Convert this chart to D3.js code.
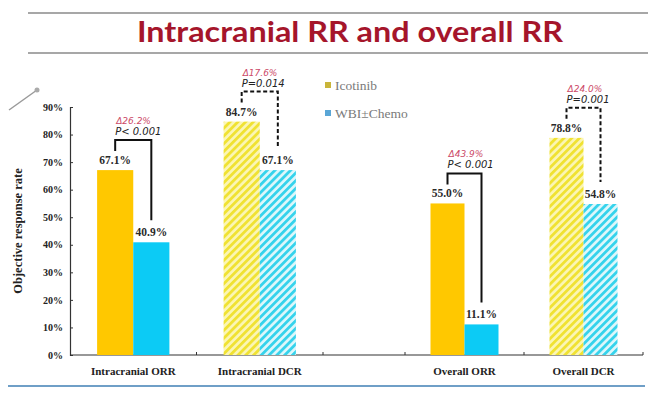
<!DOCTYPE html>
<html lang="en">
<head>
<meta charset="UTF-8">
<script src="https://d3js.org/d3.v7.min.js"></script>
<style>
    body { margin: 0; background: #fff; }
    svg { display: block; }
    .serif { font-family: "Liberation Serif", "DejaVu Serif", serif; }
</style>
<title>Intracranial RR and overall RR</title>
</head>
<body>
<svg id="chart" width="648" height="398"></svg>
<script>
    // chart values
    var categories = ["Intracranial ORR", "Intracranial DCR", "Overall ORR", "Overall DCR"];
    var leftCategories = ["Intracranial ORR", "Intracranial DCR"];
    var rightCategories = ["Overall ORR", "Overall DCR"];
    var seriesNames = ["Icotinib", "WBI\u00b1Chemo"];
    var icotinib = [67.1, 84.7, 55.0, 78.8];
    var wbiChemo = [40.9, 67.1, 11.1, 54.8];
    var deltas = ["\u039426.2%", "\u039417.6%", "\u039443.9%", "\u039424.0%"];
    var pValues = ["P< 0.001", "P=0.014", "P< 0.001", "P=0.001"];
    var dashed = [false, true, false, true];
    var yTicks = [0, 10, 20, 30, 40, 50, 60, 70, 80, 90];

    var svg = d3.select("#chart");

    // hatch patterns for the DCR bars
    var defs = svg.append("defs");
    function hatch(id, bg, stripe) {
        var p = defs.append("pattern")
            .attr("id", id)
            .attr("patternUnits", "userSpaceOnUse")
            .attr("width", 5.5).attr("height", 5.5)
            .attr("patternTransform", "rotate(45)");
        p.append("rect").attr("width", 5.5).attr("height", 5.5).attr("fill", bg);
        p.append("rect").attr("width", 2.8).attr("height", 5.5).attr("fill", stripe);
    }
    hatch("hatch-yellow", "#fbf6b4", "#f0e232");
    hatch("hatch-blue", "#def7fb", "#36d3ec");

    // header
    svg.append("line").attr("x1", 28).attr("x2", 648).attr("y1", 13).attr("y2", 13)
        .attr("stroke", "#8a8a8a").attr("stroke-width", 1.5);
    svg.append("line").attr("x1", 28).attr("x2", 648).attr("y1", 53).attr("y2", 53)
        .attr("stroke", "#8a8a8a").attr("stroke-width", 1.5);
    svg.append("text")
        .attr("x", 350).attr("y", 42)
        .attr("text-anchor", "middle")
        .attr("textLength", 426).attr("lengthAdjust", "spacingAndGlyphs")
        .style("font-family", "Lato, 'Open Sans', sans-serif")
        .style("font-weight", "bold")
        .style("font-size", "28px")
        .attr("fill", "#a5152b")
        .text("Intracranial RR and overall RR");

    // little pointer decoration
    svg.append("line").attr("x1", 9).attr("y1", 110).attr("x2", 37).attr("y2", 90)
        .attr("stroke", "#9a9a9a").attr("stroke-width", 1.5);
    svg.append("circle").attr("cx", 37).attr("cy", 90).attr("r", 2.5).attr("fill", "#aaa");

    // scales
    var y = d3.scaleLinear().domain([0, 90]).range([355, 107]);
    var xLeft = d3.scaleBand().domain(leftCategories).range([70, 323]);
    var xRight = d3.scaleBand().domain(rightCategories).range([405, 643]);
    function x0(c) { return leftCategories.indexOf(c) >= 0 ? xLeft(c) : xRight(c); }
    function bw(c) { return leftCategories.indexOf(c) >= 0 ? xLeft.bandwidth() : xRight.bandwidth(); }
    function x1(c) {
        return d3.scaleBand().domain(seriesNames).range([0, bw(c)]).paddingOuter(0.75).paddingInner(0);
    }

    // axes
    var yAxis = svg.append("g")
        .attr("transform", "translate(70,0)")
        .call(d3.axisLeft(y).tickValues(yTicks).tickSize(-3).tickPadding(7)
            .tickFormat(function (d) { return d + "%"; }));
    yAxis.select(".domain").attr("stroke", "#333").attr("stroke-width", 1.2);
    yAxis.selectAll(".tick line").attr("stroke", "#333");
    yAxis.selectAll("text").attr("class", "serif")
        .style("font-size", "10px").style("font-weight", "bold").attr("fill", "#222");

    var xAxisL = svg.append("g").attr("transform", "translate(0,355)")
        .call(d3.axisBottom(xLeft).tickSize(0).tickPadding(12));
    var xAxisR = svg.append("g").attr("transform", "translate(0,355)")
        .call(d3.axisBottom(xRight).tickSize(0).tickPadding(12));
    [xAxisL, xAxisR].forEach(function (g) {
        g.select(".domain").remove();
        g.selectAll("text").attr("class", "serif")
            .style("font-size", "11px").style("font-weight", "bold").attr("fill", "#222");
    });
    svg.append("line").attr("x1", 70).attr("x2", 643).attr("y1", 355).attr("y2", 355)
        .attr("stroke", "#333").attr("stroke-width", 1.2);
    var boundaries = [xLeft.range()[0] + xLeft.step(), xLeft.range()[1],
        xRight.range()[0], xRight.range()[0] + xRight.step(), xRight.range()[1]];
    svg.selectAll(".xtick").data(boundaries).enter().append("line")
        .attr("x1", function (d) { return d; }).attr("x2", function (d) { return d; })
        .attr("y1", 352).attr("y2", 355)
        .attr("stroke", "#333");

    svg.append("text")
        .attr("class", "serif")
        .attr("transform", "translate(22,231) rotate(-90)")
        .attr("text-anchor", "middle")
        .style("font-size", "12.5px").style("font-weight", "bold")
        .attr("fill", "#222")
        .text("Objective response rate");

    // bars
    var rows = categories.map(function (c, i) {
        return { cat: c, a: icotinib[i], b: wbiChemo[i], delta: deltas[i], p: pValues[i], dashed: dashed[i] };
    });

    rows.forEach(function (r) {
        var s = x1(r.cat);
        var base = x0(r.cat);
        var vals = [r.a, r.b];
        var fills = r.dashed ? ["url(#hatch-yellow)", "url(#hatch-blue)"] : ["#ffc800", "#0ccbf5"];
        seriesNames.forEach(function (name, k) {
            svg.append("rect")
                .attr("x", base + s(name))
                .attr("y", y(vals[k]))
                .attr("width", s.bandwidth())
                .attr("height", y(0) - y(vals[k]))
                .attr("fill", fills[k]);
            svg.append("text")
                .attr("class", "serif")
                .attr("x", base + s(name) + s.bandwidth() / 2)
                .attr("y", y(vals[k]) - 6)
                .attr("text-anchor", "middle")
                .style("font-size", "11.5px").style("font-weight", "bold")
                .attr("fill", "#2a2a2a")
                .text(vals[k].toFixed(1) + "%");
        });

        // significance bracket
        var xa = base + s(seriesNames[0]) + s.bandwidth() / 2;
        var xb = base + s(seriesNames[1]) + s.bandwidth() / 2;
        var top = y(r.a) - 30;
        svg.append("path")
            .attr("d", "M" + xa + "," + (y(r.a) - 19) + "V" + top + "H" + xb + "V" + (y(r.b) - 22))
            .attr("fill", "none")
            .attr("stroke", "#111")
            .attr("stroke-width", 2)
            .attr("stroke-dasharray", r.dashed ? "4,2.5" : null);
        svg.append("text")
            .attr("x", xa).attr("y", top - 5)
            .style("font-family", "'DejaVu Sans', sans-serif")
            .style("font-style", "italic")
            .style("font-size", "10px")
            .attr("fill", "#222")
            .text(r.p);
        svg.append("text")
            .attr("x", xa + 1).attr("y", top - 16)
            .style("font-family", "'DejaVu Sans', sans-serif")
            .style("font-style", "italic")
            .style("font-size", "9px")
            .attr("fill", "#cc4a68")
            .text(r.delta);
    });

    // legend
    var legendColors = ["#c9b53a", "#5aa6d6"];
    var legend = svg.selectAll(".legend").data(seriesNames).enter().append("g")
        .attr("transform", function (d, i) { return "translate(325," + (85 + i * 28) + ")"; });
    legend.append("rect").attr("x", 0).attr("y", -3).attr("width", 6).attr("height", 6)
        .attr("fill", function (d, i) { return legendColors[i]; });
    legend.append("text").attr("class", "serif")
        .attr("x", 10).attr("y", 4.5)
        .style("font-size", "13.5px")
        .attr("fill", "#7a7a7a")
        .text(function (d) { return d; });

    // bottom rule
    svg.append("line").attr("x1", 8).attr("x2", 645).attr("y1", 386).attr("y2", 386)
        .attr("stroke", "#3f7fb5").attr("stroke-width", 1.5);
</script>
</body>
</html>
